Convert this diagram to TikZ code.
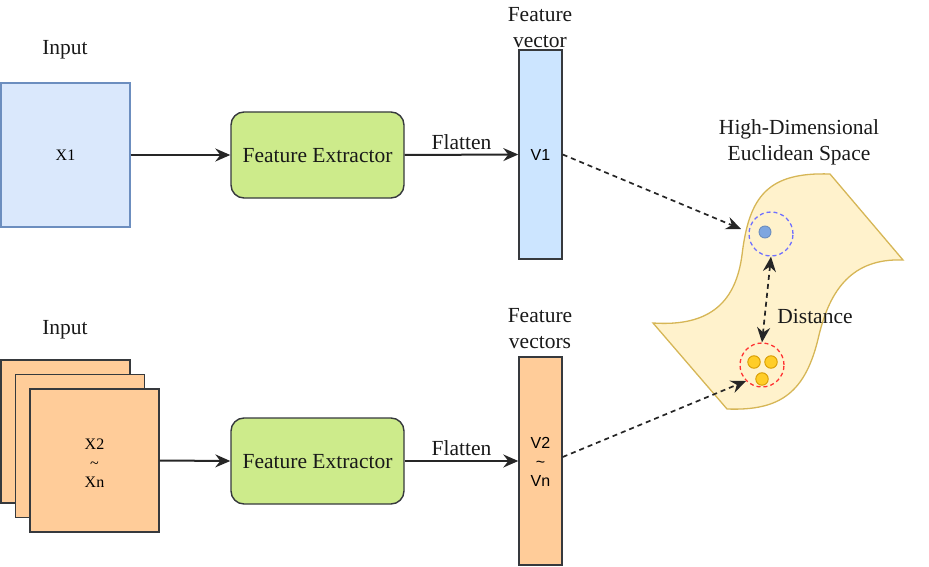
\documentclass[tikz,border=0pt]{standalone}
\usepackage{fontspec}
\setmainfont{Liberation Serif}
\newfontfamily\arialf{Liberation Sans}
\usetikzlibrary{arrows.meta}
\definecolor{inblue}{HTML}{DAE8FC}
\definecolor{inbluedraw}{HTML}{6C8EBF}
\definecolor{fegreen}{HTML}{CDEB8B}
\definecolor{darkline}{HTML}{36393D}
\definecolor{vecblue}{HTML}{CCE5FF}
\definecolor{orangefill}{HTML}{FFCC99}
\definecolor{spacefill}{HTML}{FFF2CC}
\definecolor{spacedraw}{HTML}{D6B656}
\definecolor{dotblue}{HTML}{7EA6E0}
\definecolor{dotorange}{HTML}{FFCD28}
\definecolor{dotorangedraw}{HTML}{D79B00}
\definecolor{ringblue}{HTML}{7070FF}
\definecolor{ringred}{HTML}{FF3333}
\tikzset{
  bigtext/.style={font=\fontsize{21.5}{26}\selectfont, align=center, inner sep=0pt, text=black!90},
  smalltext/.style={font=\fontsize{16}{19}\selectfont, align=center, inner sep=0pt},
  sanstext/.style={font=\arialf\fontsize{16}{19}\selectfont, align=center, inner sep=0pt},
  inbox/.style={draw=inbluedraw, fill=inblue, line width=1.4pt, minimum width=129pt, minimum height=144pt, inner sep=0pt},
  orbox/.style={draw=darkline, fill=orangefill, line width=1.4pt, minimum width=129pt, minimum height=143pt, inner sep=0pt},
  febox/.style={draw=darkline, fill=fegreen, line width=1.4pt, rounded corners=13pt, minimum width=173pt, minimum height=86pt, inner sep=0pt},
  vecbar/.style={draw=darkline, line width=1.4pt, minimum width=43pt, minimum height=208pt, inner sep=0pt},
  tip/.style={-{Stealth[length=15pt,width=13pt,inset=5pt]}},
  flow/.style={line width=2pt, draw=black!85, tip},
  dflow/.style={line width=1.7pt, draw=black!85, dash pattern=on 5pt off 4pt, tip},
  ring/.style={circle, line width=1.3pt, minimum size=44pt, inner sep=0pt, dash pattern=on 4pt off 3pt},
  dotb/.style={circle, draw=inbluedraw, fill=dotblue, line width=0.9pt, minimum size=12pt, inner sep=0pt},
  doto/.style={circle, draw=dotorangedraw, fill=dotorange, line width=0.9pt, minimum size=12.5pt, inner sep=0pt},
}
\begin{document}
\begin{tikzpicture}[x=1pt,y=-1pt]
\useasboundingbox (0,0) rectangle (929,567);
% top row
\node[bigtext] (in1lab) at (65,50) {Input};
\node[inbox] (x1) at (65.5,155) {};
\node[smalltext] (x1t) at (65.5,155) {X1};
\node[febox] (fe1) at (317.5,155) {};
\node[bigtext] (fe1t) at (317.5,156) {Feature Extractor};
\node[vecbar, fill=vecblue, minimum height=209pt] (v1) at (540.5,154.5) {};
\node[sanstext] (v1t) at (540.5,155) {V1};
\node[bigtext] (fv1) at (540,28) {Feature\\vector};
\draw[flow] (x1.east) -- (fe1.west);
\draw[flow] (fe1.east) -- (v1.west) node[midway, above=4pt, bigtext] (fl1) {Flatten};
% bottom row
\node[bigtext] (in2lab) at (65,330) {Input};
\node[orbox] (b1) at (65.5,431.5) {};
\node[orbox] (b2) at (80,446) {};
\node[orbox] (b3) at (94.5,460.5) {};
\node[smalltext] (x2t) at (94.5,463) {X2\\\textasciitilde\\Xn};
\node[febox] (fe2) at (317.5,461) {};
\node[bigtext] (fe2t) at (317.5,462) {Feature Extractor};
\node[vecbar, fill=orangefill] (v2) at (540.5,461) {};
\node[sanstext] (v2t) at (540.5,462) {V2\\\char"7E\\Vn};
\node[bigtext] (fv2) at (540,329) {Feature\\vectors};
\draw[flow] (b3.east) -- (fe2.west);
\draw[flow] (fe2.east) -- (v2.west) node[midway, above=4pt, bigtext] (fl2) {Flatten};
% space
\draw[draw=spacedraw, fill=spacefill, line width=1.3pt]
  (653,323) .. controls (712,327) and (736,300) .. (742,255)
  .. controls (749,196) and (768,172) .. (830,174)
  -- (903,260)
  .. controls (852,258) and (830,290) .. (819,335)
  .. controls (806,393) and (780,411) .. (727,409) -- cycle;
\node[bigtext] (hd) at (799,142) {High-Dimensional\\Euclidean Space};
\node[ring, draw=ringblue] (bc) at (771,234) {};
\node[dotb] (d0) at (765,232) {};
\node[ring, draw=ringred] (rc) at (762,365) {};
\node[doto] (d1) at (754,362) {};
\node[doto] (d2) at (771,362) {};
\node[doto] (d3) at (762,379) {};
\coordinate (t1) at (741,229);
\draw[dflow] (v1.east) -- (t1);
\draw[dflow] ([yshift=4pt]v2.east) -- (rc.-135);
\draw[line width=1.7pt, draw=black!85, dash pattern=on 5pt off 4pt, {Stealth[length=15pt,width=13pt,inset=5pt]}-{Stealth[length=15pt,width=13pt,inset=5pt]}] (bc.south) -- (rc.north);
\node[bigtext] (dist) at (815,316) {Distance};
\end{tikzpicture}
\end{document}
